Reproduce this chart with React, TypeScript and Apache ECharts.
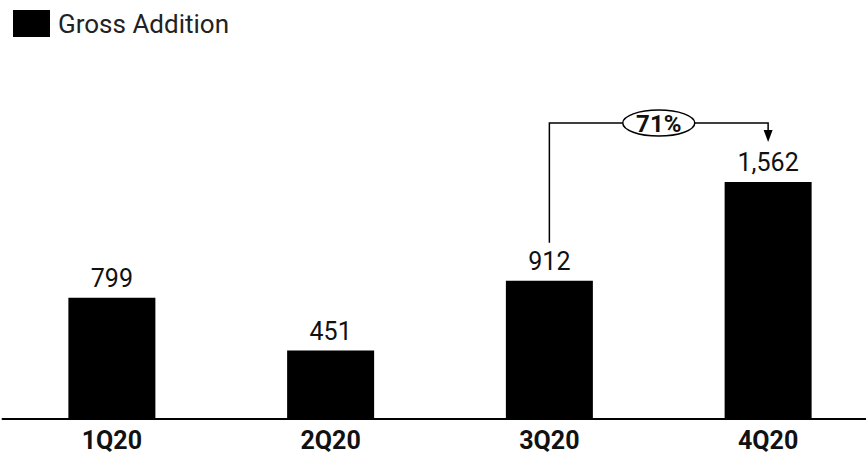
import React, { useEffect, useRef } from "react";
import * as echarts from "echarts";

const categories = ["1Q20", "2Q20", "3Q20", "4Q20"];
const grossAddition = [799, 451, 912, 1562];
const seriesName = "Gross Addition";
const growthLabel = "71%";

export default function App() {
  const ref = useRef<HTMLDivElement>(null);
  useEffect(() => {
    if (!ref.current) return;
    const chart = echarts.init(ref.current, undefined, { renderer: "svg" });
    const font = "Roboto, 'Noto Sans', sans-serif";
    chart.setOption({
      animation: false,
      legend: {
        left: 13,
        top: 10,
        padding: 0,
        itemWidth: 37,
        itemHeight: 27,
        itemGap: 10,
        icon: "rect",
        textStyle: { fontFamily: font, fontSize: 26, color: "#222", padding: [0, 0, 0, 3] },
        data: [seriesName],
      },
      grid: { left: 2.5, right: 2.5, top: 115.6, bottom: 35, containLabel: false },
      xAxis: {
        type: "category",
        data: categories,
        axisLine: { lineStyle: { color: "#000", width: 2 } },
        axisTick: { show: false },
        axisLabel: { fontFamily: font, fontSize: 25, fontWeight: "bold", color: "#111", margin: 9 },
      },
      yAxis: {
        type: "value",
        min: 0,
        max: 2000,
        show: false,
        splitLine: { show: false },
      },
      series: [
        {
          name: seriesName,
          type: "bar",
          data: grossAddition,
          barWidth: 87,
          itemStyle: { color: "#000" },
          label: {
            show: true,
            position: "top",
            distance: 7,
            fontFamily: font,
            fontSize: 25,
            color: "#111",
            formatter: (p: any) => Number(p.value).toLocaleString("en-US"),
          },
        },
      ],
    });

    const p3 = chart.convertToPixel({ seriesIndex: 0 }, [categories[2], grossAddition[2]]) as number[];
    const p4 = chart.convertToPixel({ seriesIndex: 0 }, [categories[3], grossAddition[3]]) as number[];
    const yTop = p4[1] - 59;
    const tipY = p4[1] - 40;
    const midX = (p3[0] + p4[0]) / 2;
    chart.setOption({
      graphic: [
        {
          type: "polyline",
          shape: { points: [[p3[0], p3[1] - 38], [p3[0], yTop], [p4[0], yTop], [p4[0], tipY - 11]] },
          style: { stroke: "#000", lineWidth: 1.5, fill: null },
          z: 10,
        },
        {
          type: "polygon",
          shape: { points: [[p4[0] - 4.5, tipY - 12], [p4[0] + 4.5, tipY - 12], [p4[0], tipY]] },
          style: { fill: "#000" },
          z: 10,
        },
        {
          type: "ellipse",
          shape: { cx: midX, cy: yTop, rx: 36, ry: 13 },
          style: { fill: "#fff", stroke: "#000", lineWidth: 1.5 },
          z: 11,
        },
        {
          type: "text",
          x: midX,
          y: yTop + 1,
          style: {
            text: growthLabel,
            fontFamily: font,
            fontSize: 24,
            fontWeight: "bold",
            fill: "#111",
            align: "center",
            verticalAlign: "middle",
          },
          z: 12,
        },
      ],
    });
    return () => chart.dispose();
  }, []);
  return (
    <div style={{ position: "fixed", left: 0, top: 0, width: 866, height: 454, overflow: "hidden", background: "#fff" }}>
      <div ref={ref} style={{ width: 880, height: 454 }} />
    </div>
  );
}
